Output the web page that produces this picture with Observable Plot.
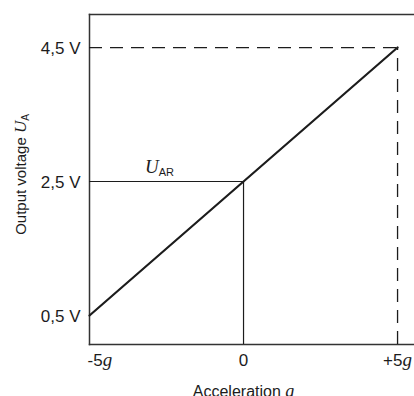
<!DOCTYPE html>
<html>
<head>
<meta charset="utf-8">
<script src="https://cdn.jsdelivr.net/npm/d3@7"></script>
<script src="https://cdn.jsdelivr.net/npm/@observablehq/plot@0.6"></script>
<style>
  html, body { margin: 0; padding: 0; background: #fff; }
  #chart svg { display: block; }
</style>
</head>
<body>
<div id="chart"></div>
<script>
// ---- data ----
const accel = [-5, 5];            // acceleration in g
const voltage = [0.5, 4.5];       // output voltage in V
const uAR = 2.5;                  // reference voltage at 0 g
const yTicks = [0.5, 2.5, 4.5];
const yTickLabels = ["0,5 V", "2,5 V", "4,5 V"];
const xTicks = [-5, 0, 5];
const xTickLabels = ["-5g", "0", "+5g"];
const xDomain = [-5, 5.55];
const yDomain = [0.067, 4.993];

const lineData = accel.map((a, i) => ({a, v: voltage[i]}));
const ink = "#1c1c1c";
const sans = "'Liberation Sans', Arial, sans-serif";
const serif = "'Liberation Serif', 'DejaVu Serif', serif";

const plot = Plot.plot({
  width: 414,
  height: 396,
  marginLeft: 89,
  marginRight: 0,
  marginTop: 14,
  marginBottom: 52,
  style: {fontFamily: sans, fontSize: "17px", color: ink, background: "#fff"},
  x: {domain: xDomain, axis: null},
  y: {domain: yDomain, axis: null},
  marks: [
    Plot.frame({anchor: "top", stroke: "#333", strokeWidth: 1.5}),
    Plot.frame({anchor: "left", stroke: "#333", strokeWidth: 1.5}),
    Plot.frame({anchor: "bottom", stroke: "#333", strokeWidth: 1.5}),
    // reference lines
    Plot.ruleY([uAR], {x1: xDomain[0], x2: 0, stroke: ink, strokeWidth: 1.2}),
    Plot.ruleX([0], {y1: yDomain[0], y2: uAR, stroke: ink, strokeWidth: 1.2}),
    Plot.ruleY([voltage[1]], {x1: xDomain[0], x2: accel[1], stroke: ink, strokeWidth: 1.3, strokeDasharray: "13,8"}),
    Plot.ruleX([accel[1]], {y1: yDomain[0], y2: voltage[1], stroke: ink, strokeWidth: 1.3, strokeDasharray: "13,8"}),
    // characteristic line
    Plot.line(lineData, {x: "a", y: "v", stroke: ink, strokeWidth: 2.2}),
    // y tick labels
    Plot.text(yTicks, {x: xDomain[0], y: d => d, text: (d, i) => yTickLabels[i],
      textAnchor: "end", dx: -9, dy: 1, fontSize: 17, fill: ink}),
    // x tick labels
    Plot.text(xTicks.slice(0, 1), {x: d => d, text: (d, i) => xTickLabels[i], frameAnchor: "bottom",
      textAnchor: "start", dx: -2, dy: 21, fontSize: 17, fill: ink, className: "xt"}),
    Plot.text(xTicks.slice(1), {x: d => d, text: (d, i) => xTickLabels[i + 1], frameAnchor: "bottom",
      textAnchor: "middle", dy: 21, fontSize: 17, fill: ink, className: "xt"}),
    // axis titles
    Plot.text(["Acceleration g"], {x: 0, frameAnchor: "bottom", dy: 52, textAnchor: "middle",
      fontSize: 16, fill: ink, className: "xlabel"}),
    Plot.text(["Output voltage UA"], {frameAnchor: "left", dx: -68, dy: -5, rotate: -90,
      textAnchor: "middle", fontSize: 15, fill: ink, className: "ylabel"}),
    // U_AR annotation
    Plot.text(["UAR"], {x: (xDomain[0] + 0) / 2, y: uAR, dx: -7, dy: -14, textAnchor: "middle",
      fontSize: 17, fill: ink, className: "uar"})
  ]
});

document.getElementById("chart").appendChild(plot);

// rich text: italic g / U and subscripts
function rich(el, parts) {
  const t = d3.select(el);
  t.text(null);
  parts.forEach(p => {
    const s = t.append("tspan").text(p.t);
    if (p.italic) s.attr("font-family", serif).attr("font-style", "italic");
    if (p.size) s.attr("font-size", p.size);
    if (p.dy) s.attr("dy", p.dy);
  });
}
d3.select(plot).selectAll("text").each(function() {
  const s = this.textContent;
  if (s === "-5g") rich(this, [{t: "-5"}, {t: "g", italic: true, size: 19}]);
  else if (s === "+5g") rich(this, [{t: "+5"}, {t: "g", italic: true, size: 19}]);
  else if (s === "Acceleration g") rich(this, [{t: "Acceleration "}, {t: "g", italic: true, size: 18}]);
  else if (s === "Output voltage UA") rich(this, [{t: "Output voltage "}, {t: "U", italic: true, size: 17}, {t: "A", size: 10, dy: 3}]);
  else if (s === "UAR") rich(this, [{t: "U", italic: true, size: 19}, {t: "AR", size: 11, dy: 3}]);
});
</script>
</body>
</html>
